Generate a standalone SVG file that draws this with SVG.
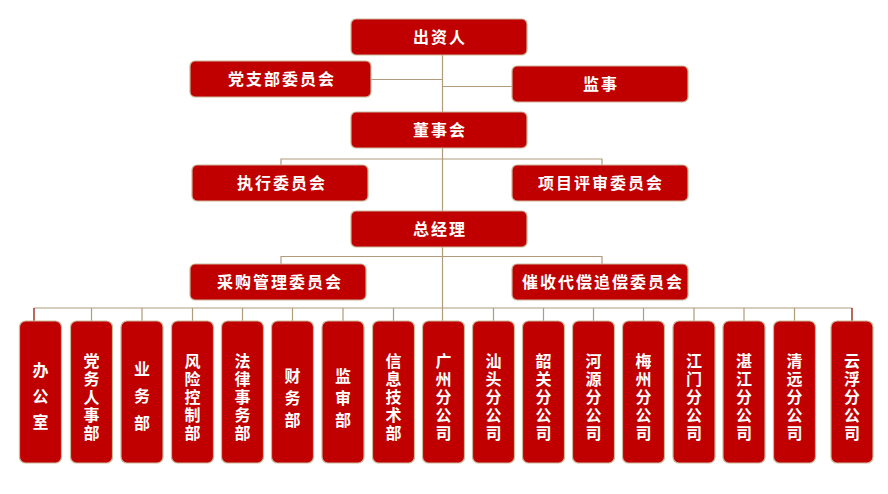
<svg xmlns="http://www.w3.org/2000/svg" width="888" height="494" viewBox="0 0 888 494">
<style>
.b{fill:#c00000;stroke:#c9b79a;stroke-width:1.2}
.t{fill:#fff;font-family:"Noto Sans CJK SC","Noto Sans",sans-serif;font-weight:bold;font-size:16px;letter-spacing:2px;text-anchor:middle}
.v{fill:#fff;font-family:"Noto Sans CJK SC","Noto Sans",sans-serif;font-weight:bold;font-size:16px;text-anchor:middle;writing-mode:vertical-rl;letter-spacing:2px}
.l{stroke:#b09b7c;stroke-width:1.2;fill:none}
.r{stroke:#9c2a1a;stroke-width:1.4;fill:none}
</style>
<rect width="888" height="494" fill="#fff"/>
<g id="connectors">
<path class="l" d="M442.5 55V321"/>
<path class="l" d="M371 79.5H442.5M442.5 86.5H512"/>
<path class="l" d="M281 165V159H602V165"/>
<path class="l" d="M281 264V256.5H602V264"/>
<path class="l" d="M34 308H852"/>
<path class="r" d="M34 308V323M852 308V321"/>
<path class="l" d="M91.5 308V321M142 308V321M192.5 308V321M242.5 308V321M292.5 308V321M343 308V321M393.5 308V321M493.5 308V321M543.5 308V321M593.5 308V321M643.5 308V321M694 308V321M744 308V321M794.5 308V321"/>
</g>
<g id="chuziren"><rect class="b" x="351" y="19" width="176" height="36" rx="5"/><text class="t" x="440" y="43">出资人</text></g>
<g id="dangzhibu"><rect class="b" x="190" y="61" width="181" height="36" rx="5"/><text class="t" x="282" y="85">党支部委员会</text></g>
<g id="jianshi"><rect class="b" x="512" y="66" width="176" height="36" rx="5"/><text class="t" x="601" y="90">监事</text></g>
<g id="dongshihui"><rect class="b" x="351" y="112" width="176" height="36" rx="5"/><text class="t" x="440" y="136">董事会</text></g>
<g id="zhixing"><rect class="b" x="192" y="165" width="176" height="36" rx="5"/><text class="t" x="282" y="189">执行委员会</text></g>
<g id="xiangmu"><rect class="b" x="512" y="165" width="176" height="36" rx="5"/><text class="t" x="601" y="189">项目评审委员会</text></g>
<g id="zongjingli"><rect class="b" x="351" y="211" width="176" height="36" rx="5"/><text class="t" x="440" y="235">总经理</text></g>
<g id="caigou"><rect class="b" x="190" y="264" width="176" height="36" rx="5"/><text class="t" x="280" y="288">采购管理委员会</text></g>
<g id="cuishou"><rect class="b" x="512" y="264" width="176" height="36" rx="5"/><text class="t" x="603" y="288">催收代偿追偿委员会</text></g>

<g id="n1"><rect class="b" x="19.5" y="321" width="42" height="142" rx="6"/><text class="v" x="40.5" y="401" style="letter-spacing:10px">办公室</text></g>
<g id="n2"><rect class="b" x="70.5" y="321" width="42" height="142" rx="6"/><text class="v" x="91.5" y="398">党务人事部</text></g>
<g id="n3"><rect class="b" x="121" y="321" width="42" height="142" rx="6"/><text class="v" x="142" y="401" style="letter-spacing:11px">业务部</text></g>
<g id="n4"><rect class="b" x="171.5" y="321" width="42" height="142" rx="6"/><text class="v" x="192.5" y="398">风险控制部</text></g>
<g id="n5"><rect class="b" x="221.5" y="321" width="42" height="142" rx="6"/><text class="v" x="242.5" y="398">法律事务部</text></g>
<g id="n6"><rect class="b" x="271.5" y="321" width="42" height="142" rx="6"/><text class="v" x="292.5" y="401" style="letter-spacing:6px">财务部</text></g>
<g id="n7"><rect class="b" x="322" y="321" width="42" height="142" rx="6"/><text class="v" x="343" y="401" style="letter-spacing:6px">监审部</text></g>
<g id="n8"><rect class="b" x="372.5" y="321" width="42" height="142" rx="6"/><text class="v" x="393.5" y="398">信息技术部</text></g>
<g id="n9"><rect class="b" x="422.5" y="321" width="42" height="142" rx="6"/><text class="v" x="443.5" y="398">广州分公司</text></g>
<g id="n10"><rect class="b" x="472.5" y="321" width="42" height="142" rx="6"/><text class="v" x="493.5" y="398">汕头分公司</text></g>
<g id="n11"><rect class="b" x="522.5" y="321" width="42" height="142" rx="6"/><text class="v" x="543.5" y="398">韶关分公司</text></g>
<g id="n12"><rect class="b" x="572.5" y="321" width="42" height="142" rx="6"/><text class="v" x="593.5" y="398">河源分公司</text></g>
<g id="n13"><rect class="b" x="622.5" y="321" width="42" height="142" rx="6"/><text class="v" x="643.5" y="398">梅州分公司</text></g>
<g id="n14"><rect class="b" x="673" y="321" width="42" height="142" rx="6"/><text class="v" x="694" y="398">江门分公司</text></g>
<g id="n15"><rect class="b" x="723" y="321" width="42" height="142" rx="6"/><text class="v" x="744" y="398">湛江分公司</text></g>
<g id="n16"><rect class="b" x="773.5" y="321" width="42" height="142" rx="6"/><text class="v" x="794.5" y="398">清远分公司</text></g>
<g id="n17"><rect class="b" x="831" y="321" width="42" height="142" rx="6"/><text class="v" x="852" y="398">云浮分公司</text></g>
</svg>
